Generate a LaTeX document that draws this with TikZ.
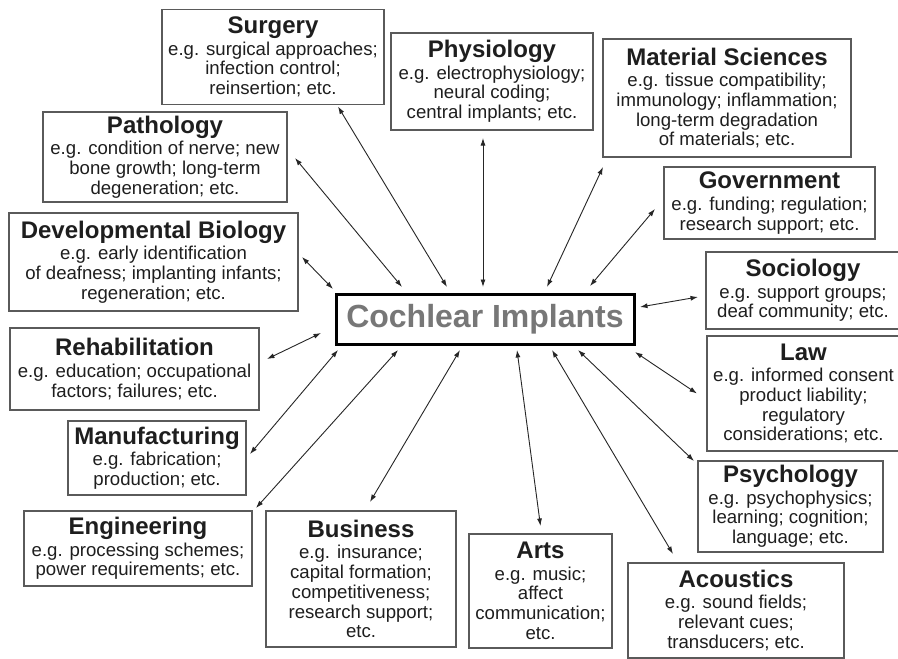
\documentclass[tikz,border=0pt]{standalone}
\usepackage{fontspec}
\setmainfont{Liberation Sans}
\usetikzlibrary{arrows.meta}
\definecolor{boxline}{HTML}{5A5A5A}
\definecolor{inkgray}{HTML}{1E1E1E}
\definecolor{corgray}{HTML}{777777}
\newcommand{\fieldtext}[2]{{\fontsize{24}{26}\selectfont\bfseries #1}\\[1.5pt]#2}
\tikzset{
  field/.style={draw=boxline, line width=1.4pt, align=center, inner sep=0pt, outer sep=0pt,
    text=inkgray, font=\fontsize{18.6}{19.8}\selectfont},
  link/.style={{Latex[length=7.5pt,width=5pt]}-{Latex[length=7.5pt,width=5pt]}, line width=0.9pt, draw=black!85}
}
\begin{document}
\begin{tikzpicture}[x=1pt,y=-1pt]
\useasboundingbox[fill=white] (0,0) rectangle (898,659);
\node[draw=black, line width=3pt, outer sep=0pt, minimum width=298pt, minimum height=50pt,
  text=corgray, font=\fontsize{32}{36}\selectfont\bfseries] (ci) at (485,319) {Cochlear Implants};
\node[field, minimum width=222pt, minimum height=95pt] (sur) at (273,57)
  {\fieldtext{Surgery}{e.g. surgical approaches;\\infection control;\\reinsertion; etc.}};
\node[field, minimum width=202pt, minimum height=97pt] (phys) at (492,81.5)
  {\fieldtext{Physiology}{e.g. electrophysiology;\\neural coding;\\central implants; etc.}};
\node[field, minimum width=248pt, minimum height=118pt] (mat) at (727,98)
  {\fieldtext{Material Sciences}{e.g. tissue compatibility;\\immunology; inflammation;\\long-term degradation\\of materials; etc.}};
\node[field, minimum width=211pt, minimum height=72pt] (gov) at (769.5,203)
  {\fieldtext{Government}{e.g. funding; regulation;\\research support; etc.}};
\node[field, minimum width=194pt, minimum height=77pt] (soc) at (803,290.5)
  {\fieldtext{Sociology}{e.g. support groups;\\deaf community; etc.}};
\node[field, minimum width=193pt, minimum height=115pt] (law) at (803.5,393.5)
  {\fieldtext{Law}{e.g. informed consent\\product liability;\\regulatory\\considerations; etc.}};
\node[field, minimum width=185pt, minimum height=91pt] (psy) at (790.5,506.5)
  {\fieldtext{Psychology}{e.g. psychophysics;\\learning; cognition;\\language; etc.}};
\node[field, minimum width=216pt, minimum height=95pt] (aco) at (736,610.5)
  {\fieldtext{Acoustics}{e.g. sound fields;\\relevant cues;\\transducers; etc.}};
\node[field, minimum width=143pt, minimum height=114pt] (arts) at (540.5,591)
  {\fieldtext{Arts}{e.g. music;\\affect\\communication;\\etc.}};
\node[field, minimum width=190pt, minimum height=136pt] (bus) at (361,579)
  {\fieldtext{Business}{e.g. insurance;\\capital formation;\\competitiveness;\\research support;\\etc.}};
\node[field, minimum width=228pt, minimum height=75pt] (eng) at (138,548.5)
  {\fieldtext{Engineering}{e.g. processing schemes;\\power requirements; etc.}};
\node[field, minimum width=178pt, minimum height=74pt] (man) at (157,458)
  {\fieldtext{Manufacturing}{e.g. fabrication;\\production; etc.}};
\node[field, minimum width=249pt, minimum height=82pt] (reh) at (134.5,369)
  {\fieldtext{Rehabilitation}{e.g. education; occupational\\factors; failures; etc.}};
\node[field, minimum width=289pt, minimum height=98pt] (dev) at (153.5,262)
  {\fieldtext{Developmental Biology}{e.g. early identification\\of deafness; implanting infants;\\regeneration; etc.}};
\node[field, minimum width=244pt, minimum height=90pt] (pat) at (165,157)
  {\fieldtext{Pathology}{e.g. condition of nerve; new\\bone growth; long-term\\degeneration; etc.}};
\draw[link] ([xshift=66pt,yshift=7pt]ci.north west) -- ([xshift=8pt,yshift=-1pt]pat.east);
\draw[link] ([xshift=-38pt,yshift=7pt]ci.north) -- ([xshift=65pt,yshift=-2pt]sur.south);
\draw[link] ([xshift=-2pt,yshift=7pt]ci.north) -- ([xshift=-9pt,yshift=-8pt]phys.south);
\draw[link] ([xshift=62pt,yshift=7pt]ci.north) -- ([yshift=-10pt]mat.south west);
\draw[link] ([xshift=105pt,yshift=8pt]ci.north) -- ([xshift=-9pt,yshift=-6pt]gov.west);
\draw[link] ([xshift=6pt,yshift=12pt]ci.east) -- ([xshift=-8pt,yshift=-6.5pt]soc.west);
\draw[link] ([xshift=1pt,yshift=-8pt]ci.south east) -- ([xshift=-10pt]law.west);
\draw[link] ([xshift=93pt,yshift=-6pt]ci.south) -- ([xshift=-4pt]psy.north west);
\draw[link] ([xshift=67pt,yshift=-6pt]ci.south) -- ([xshift=45pt,yshift=9pt]aco.north west);
\draw[link] ([xshift=32pt,yshift=-6pt]ci.south) -- ([yshift=8pt]arts.north);
\draw[link] ([xshift=-25pt,yshift=-6pt]ci.south) -- ([xshift=9pt,yshift=9pt]bus.north);
\draw[link] ([xshift=-87pt,yshift=-6pt]ci.south) -- ([xshift=4pt,yshift=3pt]eng.north east);
\draw[link] ([xshift=2pt,yshift=-6pt]ci.south west) -- ([xshift=4pt,yshift=4pt]man.east);
\draw[link] ([xshift=-15pt,yshift=-14pt]ci.west) -- ([xshift=8pt,yshift=10pt]reh.east);
\draw[link] ([xshift=-3pt,yshift=5pt]ci.north west) -- ([xshift=4pt,yshift=5pt]dev.east);
\end{tikzpicture}
\end{document}
